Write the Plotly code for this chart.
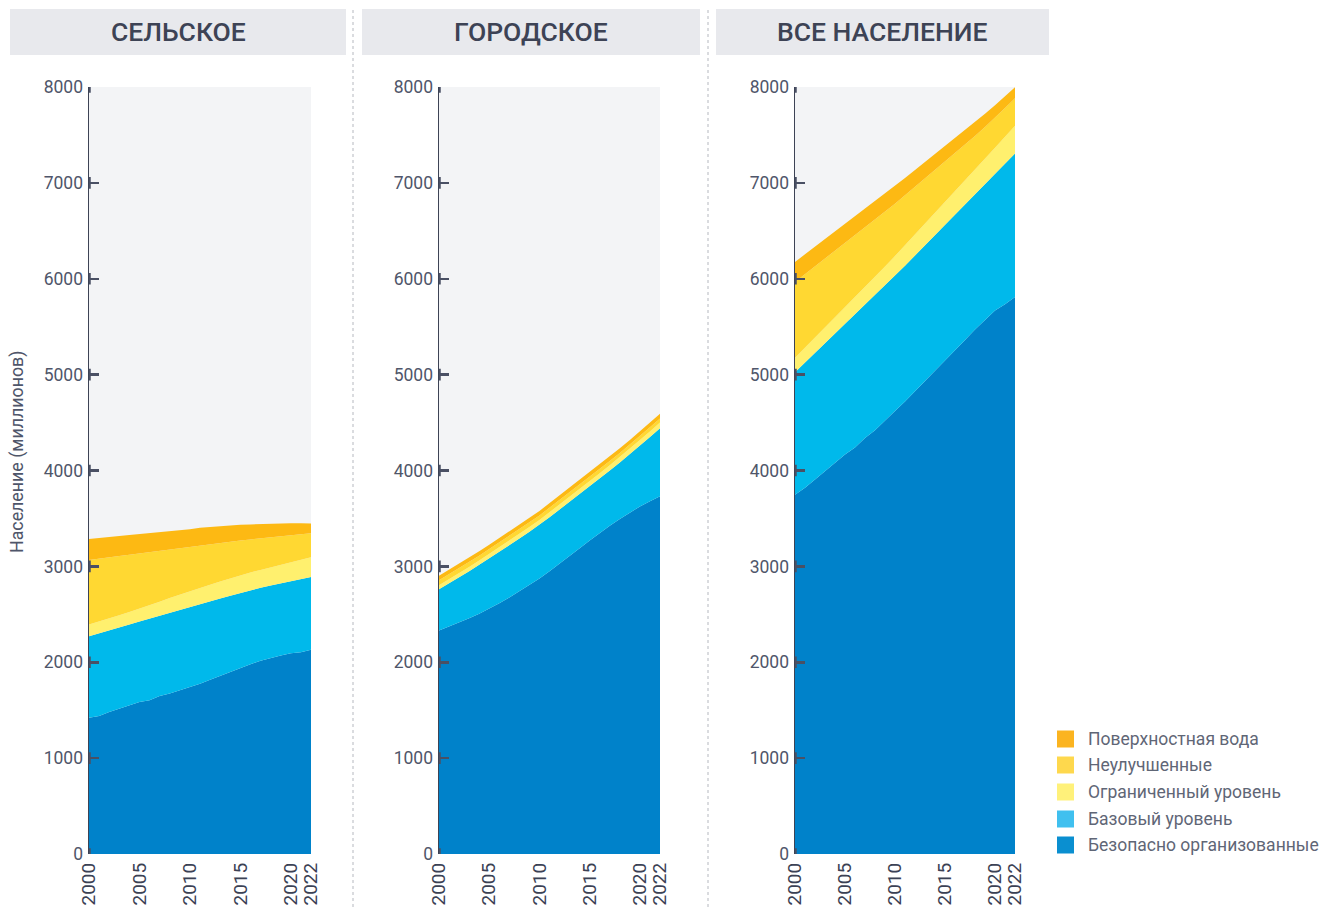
import plotly.graph_objects as go

years = list(range(2000, 2023))

# Rural (million people), per service level
rural_safely = [1420, 1440, 1480, 1515, 1550, 1585, 1603, 1648, 1673, 1705, 1736, 1775, 1818, 1860, 1903, 1946, 1980, 2015, 2045, 2070, 2093, 2103, 2131]
rural_basic = [851, 860, 853, 849, 845, 840, 853, 838, 843, 841, 840, 831, 818, 805, 791, 777, 770, 761, 755, 754, 755, 767, 759]
rural_limited = [123, 124, 125, 126, 129, 133, 139, 146, 153, 160, 167, 170, 173, 177, 181, 185, 186, 187, 190, 193, 196, 200, 204]
rural_unimproved = [672, 654, 636, 618, 598, 578, 555, 532, 509, 486, 463, 443, 423, 403, 382, 361, 345, 330, 315, 299, 283, 267, 252]
rural_surface = [220, 216, 212, 208, 204, 200, 196, 192, 188, 184, 180, 185, 181, 175, 170, 164, 157, 150, 142, 134, 124, 112, 100]

# Urban
urban_safely = [2331, 2372, 2414, 2459, 2507, 2558, 2615, 2675, 2738, 2804, 2873, 2948, 3025, 3105, 3188, 3270, 3350, 3425, 3495, 3562, 3625, 3680, 3731]
urban_basic = [430, 450, 471, 491, 509, 525, 536, 545, 552, 557, 560, 564, 567, 567, 565, 565, 567, 574, 588, 606, 635, 670, 710]
urban_limited = [42, 43, 44, 44, 45, 46, 47, 48, 48, 49, 50, 51, 52, 52, 53, 54, 55, 55, 56, 57, 58, 58, 59]
urban_unimproved = [53, 53, 52, 52, 51, 51, 50, 50, 49, 49, 48, 48, 47, 47, 46, 46, 45, 45, 44, 44, 44, 43, 43]
urban_surface = [45, 45, 45, 46, 46, 46, 46, 47, 47, 47, 47, 48, 48, 48, 48, 49, 49, 49, 49, 50, 50, 50, 50]

# Total population
total_safely = [3748, 3820, 3905, 3990, 4080, 4168, 4240, 4340, 4420, 4515, 4620, 4720, 4825, 4930, 5035, 5140, 5250, 5360, 5470, 5575, 5670, 5735, 5810]
total_basic = [1278, 1306, 1321, 1336, 1346, 1358, 1386, 1386, 1406, 1411, 1410, 1416, 1417, 1418, 1420, 1422, 1418, 1415, 1412, 1414, 1425, 1466, 1497]
total_limited = [150, 155, 160, 166, 172, 178, 184, 190, 196, 202, 208, 214, 220, 226, 232, 238, 244, 250, 257, 264, 272, 281, 290]
total_unimproved = [790, 766, 742, 718, 694, 670, 645, 620, 595, 570, 545, 520, 495, 470, 445, 420, 395, 372, 350, 330, 312, 298, 285]
total_surface = [210, 208, 206, 204, 202, 200, 197, 194, 190, 186, 182, 180, 176, 172, 168, 163, 157, 151, 145, 138, 131, 123, 115]

panel_titles = ["СЕЛЬСКОЕ", "ГОРОДСКОЕ", "ВСЕ НАСЕЛЕНИЕ"]
level_names = ["Безопасно организованные", "Базовый уровень", "Ограниченный уровень", "Неулучшенные", "Поверхностная вода"]
fill_colors = ["#0082ca", "#00b9eb", "#fff06e", "#ffd832", "#fdb913"]
legend_colors = ["#0a8fd0", "#40c0ef", "#fff17a", "#fed84d", "#fbb420"]
y_ticks = [0, 1000, 2000, 3000, 4000, 5000, 6000, 7000, 8000]
x_ticks = [2000, 2005, 2010, 2015, 2020, 2022]

panels = [
    [rural_safely, rural_basic, rural_limited, rural_unimproved, rural_surface],
    [urban_safely, urban_basic, urban_limited, urban_unimproved, urban_surface],
    [total_safely, total_basic, total_limited, total_unimproved, total_surface],
]

W, H = 1323, 907
x_dom_px = [(89, 311), (439, 660), (795, 1015)]
title_box_px = [(10, 346), (362, 700), (716, 1049)]
y_top_px, y_bot_px = 87, 854

fig = go.Figure()
axis_color = "#3d4355"
tick_font = dict(family="Roboto", size=17.5, color="#4f566a")

for i, series in enumerate(panels):
    xa = "x" if i == 0 else f"x{i+1}"
    ya = "y" if i == 0 else f"y{i+1}"
    for name, vals, col in zip(level_names, series, fill_colors):
        fig.add_trace(go.Scatter(
            x=years, y=vals, name=name, mode="lines",
            line=dict(width=0, color=col), fillcolor=col,
            stackgroup=f"g{i}", showlegend=False, hoverinfo="skip",
            xaxis=xa, yaxis=ya,
        ))
    d0, d1 = x_dom_px[i]
    xkey = "xaxis" if i == 0 else f"xaxis{i+1}"
    ykey = "yaxis" if i == 0 else f"yaxis{i+1}"
    fig.layout[xkey] = dict(
        domain=[d0 / W, d1 / W], range=[2000, 2022], anchor=ya,
        tickvals=x_ticks, ticktext=[str(v) for v in x_ticks], tickangle=-90,
        showgrid=False, zeroline=False, showline=False, ticks="",
        tickfont=dict(family="Roboto", size=19, color="#3b4154"),
        ticklabelstandoff=4,
        fixedrange=True, automargin=False,
    )
    fig.layout[ykey] = dict(
        domain=[1 - y_bot_px / H, 1 - y_top_px / H], range=[0, 8000], anchor=xa,
        tickvals=y_ticks, showgrid=False, zeroline=False,
        showline=True, linecolor=axis_color, linewidth=1.5,
        ticks="inside", ticklen=10, tickwidth=2.5, tickcolor="#4a5064",
        tickfont=tick_font, ticklabelstandoff=1,
        fixedrange=True, automargin=False,
    )
    # thicker vertical marks on the axis at each tick
    for t in y_ticks:
        fig.add_shape(type="line", xref=xa, yref=ya, x0=2000, x1=2000,
                      y0=max(0, t - 60), y1=min(8000, t + 60),
                      line=dict(color="#4a5064", width=3.5), layer="above")
    # title box
    b0, b1 = title_box_px[i]
    fig.add_shape(type="rect", xref="paper", yref="paper",
                  x0=b0 / W, x1=b1 / W, y0=1 - 55 / H, y1=1 - 9 / H,
                  fillcolor="#e8e9ed", line=dict(width=0), layer="below")
    fig.add_annotation(xref="paper", yref="paper", x=(b0 + b1) / 2 / W, y=1 - 32 / H,
                       text=panel_titles[i], showarrow=False,
                       font=dict(family="Roboto", size=26.5, color="#3d4355", weight=500),
                       xanchor="center", yanchor="middle")

# dotted separators
for sx in [353, 708]:
    fig.add_shape(type="line", xref="paper", yref="paper", x0=sx / W, x1=sx / W,
                  y0=0, y1=1 - 10 / H, line=dict(color="#b5b8bf", width=1, dash="dot"))

# y-axis title
fig.add_annotation(xref="paper", yref="paper", x=17 / W, y=1 - 452 / H,
                   text="Население (миллионов)", textangle=-90, showarrow=False,
                   font=dict(family="Roboto", size=17.8, color="#4f566a"),
                   xanchor="center", yanchor="middle")

# legend (top to bottom: surface ... safely)
leg_y = [739, 765, 792, 819, 845]
for k, yy in enumerate(leg_y):
    idx = 4 - k
    fig.add_shape(type="rect", xref="paper", yref="paper",
                  x0=1057 / W, x1=1074 / W, y0=1 - (yy + 8.5) / H, y1=1 - (yy - 8.5) / H,
                  fillcolor=legend_colors[idx], line=dict(width=0))
    fig.add_annotation(xref="paper", yref="paper", x=1086 / W, y=1 - yy / H,
                       text=level_names[idx], showarrow=False,
                       font=dict(family="Roboto", size=17.5, color="#5f6676"),
                       xanchor="left", yanchor="middle")

fig.update_layout(
    width=W, height=H,
    margin=dict(l=0, r=0, t=0, b=0, pad=0, autoexpand=False),
    paper_bgcolor="white", plot_bgcolor="#f3f4f6",
    showlegend=False, hovermode=False,
)

fig.write_html(
    "out.html",
    config={"displayModeBar": False, "staticPlot": True},
    post_script="document.body.style.margin='0px';document.body.style.overflow='hidden';",
)
